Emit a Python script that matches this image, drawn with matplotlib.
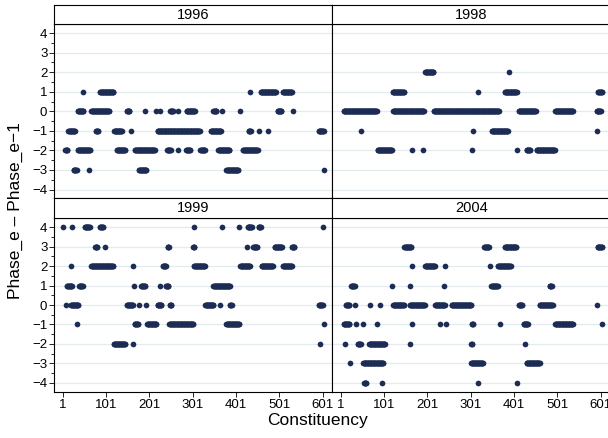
import matplotlib
matplotlib.use("Agg")
import matplotlib.pyplot as plt
from matplotlib.ticker import MultipleLocator

plt.rcParams['font.family'] = ['Liberation Sans', 'DejaVu Sans']

years = ["1996", "1998", "1999", "2004"]

# runs of neighbouring constituencies with the same value: (first, last, value)
runs_1996 = [
    (47, 47, 1), (87, 118, 1), (434, 434, 1), (458, 493, 1), (509, 530, 1),
    (36, 49, 0), (67, 108, 0), (149, 155, 0), (192, 192, 0), (216, 216, 0), (226, 226, 0),
    (249, 256, 0), (268, 268, 0), (287, 306, 0), (349, 356, 0), (368, 368, 0), (411, 411, 0),
    (497, 506, 0), (533, 533, 0),
    (14, 29, -1), (78, 83, -1), (120, 137, -1), (159, 159, -1), (220, 317, -1), (343, 366, -1),
    (430, 435, -1), (453, 453, -1), (476, 476, -1), (592, 603, -1),
    (7, 12, -2), (36, 64, -2), (126, 145, -2), (168, 213, -2), (242, 250, -2), (268, 268, -2),
    (286, 295, -2), (319, 329, -2), (360, 386, -2), (417, 451, -2),
    (26, 33, -3), (61, 61, -3), (177, 194, -3), (379, 406, -3), (603, 603, -3),
]
runs_1998 = [
    (196, 215, 2), (389, 389, 2),
    (121, 147, 1), (319, 319, 1), (380, 407, 1), (595, 604, 1),
    (8, 84, 0), (122, 193, 0), (216, 366, 0), (412, 451, 0), (496, 537, 0), (592, 601, 0),
    (48, 48, -1), (306, 306, -1), (350, 387, -1), (593, 593, -1),
    (86, 119, -2), (166, 166, -2), (192, 192, -2), (304, 304, -2), (409, 409, -2),
    (430, 438, -2), (453, 495, -2),
]
runs_1999 = [
    (1, 1, 4), (23, 23, 4), (52, 63, 4), (87, 94, 4), (303, 303, 4), (368, 368, 4),
    (409, 409, 4), (428, 437, 4), (453, 458, 4), (602, 602, 4),
    (76, 81, 3), (99, 99, 3), (243, 246, 3), (302, 305, 3), (427, 427, 3), (441, 450, 3),
    (490, 507, 3), (530, 536, 3),
    (20, 20, 2), (67, 117, 2), (163, 163, 2), (232, 239, 2), (304, 329, 2), (411, 433, 2),
    (460, 486, 2), (509, 530, 2),
    (11, 22, 1), (39, 47, 1), (166, 166, 1), (182, 191, 1), (226, 226, 1), (239, 245, 1),
    (349, 387, 1),
    (8, 8, 0), (20, 37, 0), (149, 163, 0), (178, 178, 0), (193, 193, 0), (220, 229, 0),
    (248, 252, 0), (330, 349, 0), (365, 365, 0), (387, 391, 0), (592, 601, 0),
    (35, 35, -1), (167, 175, -1), (196, 217, -1), (247, 302, -1), (379, 408, -1), (603, 603, -1),
    (119, 145, -2), (163, 163, -2), (595, 595, -2),
]
runs_2004 = [
    (148, 164, 3), (332, 343, 3), (380, 406, 3), (594, 604, 3),
    (165, 165, 2), (196, 218, 2), (242, 242, 2), (346, 346, 2), (364, 393, 2),
    (25, 33, 1), (119, 119, 1), (162, 162, 1), (239, 239, 1), (349, 363, 1), (483, 488, 1),
    (13, 21, 0), (35, 35, 0), (69, 69, 0), (92, 92, 0), (122, 147, 0), (161, 195, 0),
    (219, 241, 0), (257, 302, 0), (412, 420, 0), (460, 490, 0), (593, 593, 0),
    (8, 21, -1), (36, 36, -1), (52, 52, -1), (84, 84, -1), (166, 166, -1), (230, 230, -1),
    (243, 243, -1), (304, 307, -1), (369, 369, -1), (423, 433, -1), (496, 537, -1), (603, 603, -1),
    (11, 11, -2), (41, 47, -2), (67, 103, -2), (162, 162, -2), (302, 304, -2), (427, 427, -2),
    (23, 23, -3), (53, 99, -3), (302, 329, -3), (430, 460, -3),
    (55, 60, -4), (96, 96, -4), (319, 319, -4), (409, 409, -4),
]
panel_runs = [runs_1996, runs_1998, runs_1999, runs_2004]

xticks = [1, 101, 201, 301, 401, 501, 601]
yticks = [-4, -3, -2, -1, 0, 1, 2, 3, 4]

navy = '#1c2c54'
W, H = 608, 438


def frac(x0, y0, x1, y1):
    # pixel box (top-left origin) -> figure fraction rect
    return [x0 / W, 1 - y1 / H, (x1 - x0) / W, (y1 - y0) / H]


fig = plt.figure(figsize=(W / 100, H / 100), dpi=100)

cols = [(54.3, 332.3), (332.3, 610.3)]
rows = [((5, 24.3), (24.3, 198.3)), ((198.3, 218.3), (218.3, 391.7))]

for k, (year, runs) in enumerate(zip(years, panel_runs)):
    r, c = divmod(k, 2)
    x0, x1 = cols[c]
    (s0, s1), (p0, p1) = rows[r]

    ax = fig.add_axes(frac(x0, p0, x1, p1))
    xs, ys = [], []
    for a, b, v in runs:
        for i in range(a, b + 1):
            xs.append(i)
            ys.append(v)
    ax.plot(xs, ys, 'o', ms=4.1, mew=0, color=navy, zorder=3, clip_on=False)

    ax.set_xlim(-18.4, 623.3)
    ax.set_ylim(-4.45, 4.45)
    ax.set_yticks(yticks)
    ax.yaxis.set_minor_locator(MultipleLocator(0.5))
    ax.set_xticks(xticks)
    ax.grid(axis='y', which='major', color='#e3ebee', lw=0.9, zorder=0)
    ax.set_axisbelow(True)
    for sp in ax.spines.values():
        sp.set_color('black')
        sp.set_linewidth(0.8)
    ax.tick_params(axis='both', which='major', length=3.5, width=0.6,
                   labelsize=9.5, color='black', pad=1.5)
    ax.tick_params(axis='y', which='minor', length=2, width=0.6)
    if c == 1:
        ax.tick_params(axis='y', which='both', left=False, labelleft=False)
    if r == 0:
        ax.tick_params(axis='x', which='both', bottom=False, labelbottom=False)

    st = fig.add_axes(frac(x0, s0, x1, s1))
    st.set_xticks([])
    st.set_yticks([])
    st.set_facecolor('white')
    for sp in st.spines.values():
        sp.set_color('black')
        sp.set_linewidth(0.8)
    st.text(0.5, 0.5, year, ha='center', va='center', fontsize=10.5,
            transform=st.transAxes)

fig.text(15 / W, 1 - 210.5 / H, 'Phase_e – Phase_e−1', rotation=90,
         ha='center', va='center', fontsize=12.5)
fig.text(318 / W, 1 - 420 / H, 'Constituency', ha='center', va='center', fontsize=12.5)

fig.savefig('out.png', dpi=100)
